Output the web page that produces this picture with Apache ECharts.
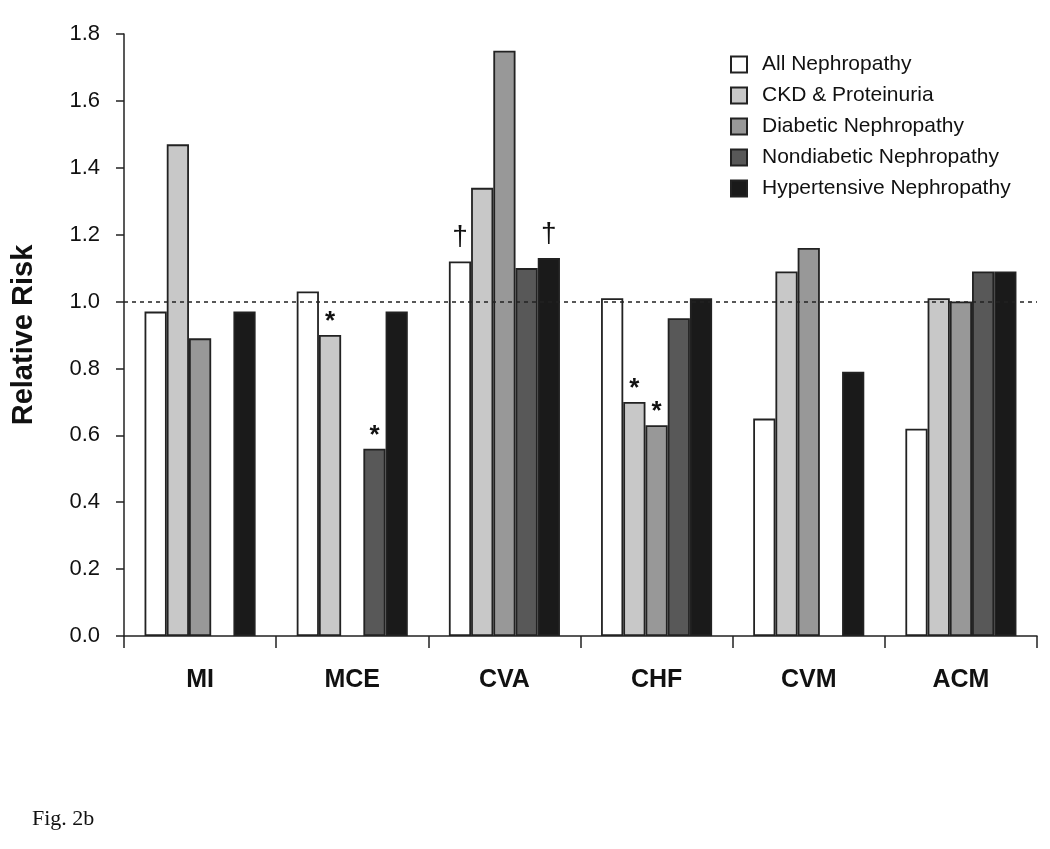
<!DOCTYPE html>
<html><head><meta charset="utf-8">
<script src="https://cdn.jsdelivr.net/npm/echarts@6/dist/echarts.min.js"></script>
<style>html,body{margin:0;padding:0;background:#fff}#c{width:1050px;height:849px}</style>
</head><body><div id="c"></div>
<script>
const categories = ['MI', 'MCE', 'CVA', 'CHF', 'CVM', 'ACM'];
const seriesNames = ['All Nephropathy', 'CKD & Proteinuria', 'Diabetic Nephropathy', 'Nondiabetic Nephropathy', 'Hypertensive Nephropathy'];
const allNephropathy      = [0.97, 1.03, 1.12, 1.01, 0.65, 0.62];
const ckdProteinuria      = [1.47, 0.90, 1.34, 0.70, 1.09, 1.01];
const diabeticNeph        = [0.89, null, 1.75, 0.63, 1.16, 1.00];
const nondiabeticNeph     = [null, 0.56, 1.10, 0.95, null, 1.09];
const hypertensiveNeph    = [0.97, 0.97, 1.13, 1.01, 0.79, 1.09];
// significance marks per series (empty string = none)
const marksAll    = ['', '', '†', '', '', ''];
const marksCkd    = ['', '*', '', '*', '', ''];
const marksDiab   = ['', '', '', '*', '', ''];
const marksNondia = ['', '*', '', '', '', ''];
const marksHyper  = ['', '', '†', '', '', ''];
const yTicks = ['0.0','0.2','0.4','0.6','0.8','1.0','1.2','1.4','1.6','1.8'];

const colors = ['#ffffff', '#c8c8c8', '#989898', '#585858', '#1a1a1a'];
const values = [allNephropathy, ckdProteinuria, diabeticNeph, nondiabeticNeph, hypertensiveNeph];
const marks = [marksAll, marksCkd, marksDiab, marksNondia, marksHyper];

function markLabel(m) {
  const star = m === '*';
  return { show: true, position: 'top', formatter: m, distance: star ? 0 : 10,
    fontSize: star ? 26 : 28, fontWeight: star ? 'bold' : 'normal', color: '#111',
    fontFamily: 'Liberation Sans' };
}

const series = values.map((vals, i) => ({
  name: seriesNames[i],
  type: 'bar',
  barGap: '0%',
  barCategoryGap: '27%',
  itemStyle: { color: colors[i], borderColor: '#222', borderWidth: 1.8 },
  data: vals.map((v, j) => marks[i][j] ? { value: v, label: markLabel(marks[i][j]) } : v),
  markLine: i === 0 ? {
    silent: true, symbol: 'none', label: { show: false },
    lineStyle: { type: [4, 4], color: '#222', width: 1.5 },
    data: [{ yAxis: 1.0 }]
  } : undefined
}));

const chart = echarts.init(document.getElementById('c'));
chart.setOption({
  animation: false,
  backgroundColor: '#fff',
  textStyle: { fontFamily: 'Liberation Sans, Arial, sans-serif' },
  grid: { left: 124, right: 13, top: 34, bottom: 213 },
  legend: {
    orient: 'vertical', left: 725, top: 49,
    itemWidth: 16, itemHeight: 16, itemGap: 10,
    icon: 'rect',
    textStyle: { fontSize: 21, lineHeight: 21, color: '#111', fontFamily: 'Liberation Sans', padding: [0, 0, 0, 10] },
    data: seriesNames
  },
  xAxis: {
    type: 'category', data: categories,
    axisLine: { lineStyle: { color: '#222', width: 1.5 } },
    axisTick: { show: true, length: 12, lineStyle: { color: '#222', width: 1.5 } },
    axisLabel: { margin: 32, fontSize: 25, fontWeight: 'bold', color: '#111', fontFamily: 'Liberation Sans' }
  },
  yAxis: {
    type: 'value', min: 0, max: 1.8, interval: 0.2,
    name: 'Relative Risk', nameLocation: 'middle', nameGap: 86, nameRotate: 90,
    nameTextStyle: { fontSize: 29, fontWeight: 'bold', color: '#111', fontFamily: 'Liberation Sans' },
    axisLine: { show: true, lineStyle: { color: '#222', width: 1.5 } },
    axisTick: { show: true, length: 8, lineStyle: { color: '#222', width: 1.5 } },
    splitLine: { show: false },
    axisLabel: { margin: 24, fontSize: 22, color: '#111', fontFamily: 'Liberation Sans',
      formatter: (v) => yTicks[Math.round(v / 0.2)] }
  },
  graphic: [{
    type: 'text', left: 32, top: 808,
    style: { text: 'Fig. 2b', fontSize: 22, fontFamily: 'Liberation Serif', fill: '#111' }
  }],
  series: series
});
</script></body></html>
